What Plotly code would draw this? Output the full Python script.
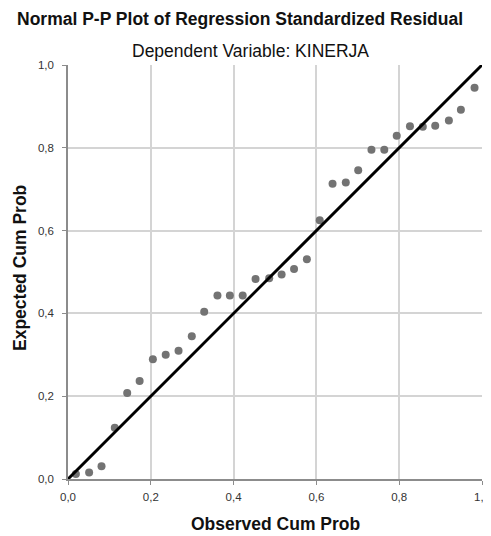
import plotly.graph_objects as go

observed = [0.019, 0.051, 0.081, 0.113, 0.143, 0.173, 0.205, 0.236, 0.267, 0.299,
            0.329, 0.361, 0.391, 0.422, 0.453, 0.486, 0.516, 0.546, 0.577, 0.608,
            0.639, 0.671, 0.701, 0.733, 0.764, 0.794, 0.826, 0.857, 0.887, 0.920,
            0.949, 0.982]
expected = [0.012, 0.016, 0.031, 0.124, 0.208, 0.237, 0.289, 0.300, 0.310, 0.345,
            0.404, 0.443, 0.443, 0.443, 0.483, 0.485, 0.494, 0.507, 0.531, 0.625,
            0.713, 0.716, 0.746, 0.795, 0.795, 0.829, 0.852, 0.851, 0.853, 0.866,
            0.892, 0.945]
ref_line = [0.0, 1.0]
tick_vals = [0.0, 0.2, 0.4, 0.6, 0.8, 1.0]

title = "Normal P-P Plot of Regression Standardized Residual"
subtitle = "Dependent Variable: KINERJA"
x_title = "Observed Cum Prob"
y_title = "Expected Cum Prob"

# the page body has an 8px margin, so the figure is drawn offset by 8px
OFF = 8
W, Hfig = 491 - OFF, 536 - OFF
ML, MT = 68 - OFF, 65 - OFF
PW, PH = 414, 414
MR = W - ML - PW
MB = Hfig - MT - PH


def px_x(px):
    return (px - OFF - ML) / PW


def px_y(py):
    return (Hfig - MB - (py - OFF)) / PH


fig = go.Figure()
fig.add_trace(go.Scatter(x=observed, y=expected, mode="markers",
                         marker=dict(color="#737373", size=8), showlegend=False,
                         cliponaxis=False))
fig.add_trace(go.Scatter(x=ref_line, y=ref_line, mode="lines",
                         line=dict(color="black", width=3), showlegend=False,
                         cliponaxis=False))

font = "Liberation Sans, Arial, sans-serif"
fig.update_layout(
    width=W, height=Hfig,
    margin=dict(l=ML, r=MR, t=MT, b=MB, autoexpand=False),
    paper_bgcolor="white", plot_bgcolor="white",
    separators=",.",
    font=dict(family=font, size=11, color="#222"),
    annotations=[
        dict(text="<b>" + title + "</b>", x=px_x(240), y=px_y(19), xref="paper", yref="paper",
             xanchor="center", yanchor="middle",
             showarrow=False, font=dict(size=17.5, color="#111")),
        dict(text=subtitle, x=px_x(250), y=px_y(51), xref="paper", yref="paper",
             xanchor="center", yanchor="middle",
             showarrow=False, font=dict(size=17.5, color="#111")),
        dict(text="<b>" + x_title + "</b>", x=px_x(275), y=px_y(524), xref="paper", yref="paper",
             xanchor="center", yanchor="middle",
             showarrow=False, font=dict(size=17.5, color="#111")),
        dict(text="<b>" + y_title + "</b>", x=px_x(20), y=px_y(268), xref="paper", yref="paper",
             xanchor="center", yanchor="middle", textangle=-90,
             showarrow=False, font=dict(size=17.5, color="#111")),
    ],
)

axis_common = dict(range=[0, 1], tickvals=tick_vals, tickformat=".1f",
                   showgrid=True, gridcolor="#d4d4d4", gridwidth=1.5,
                   zeroline=False, showline=True, linecolor="#8c8c8c", linewidth=1.5,
                   ticks="outside", ticklen=4, tickcolor="#8c8c8c",
                   automargin=False,
                   tickfont=dict(size=11.5, color="#333"))
fig.update_xaxes(**axis_common, ticklabelstandoff=2)
fig.update_yaxes(**axis_common, ticklabelstandoff=6)

fig.write_html("out.html")
